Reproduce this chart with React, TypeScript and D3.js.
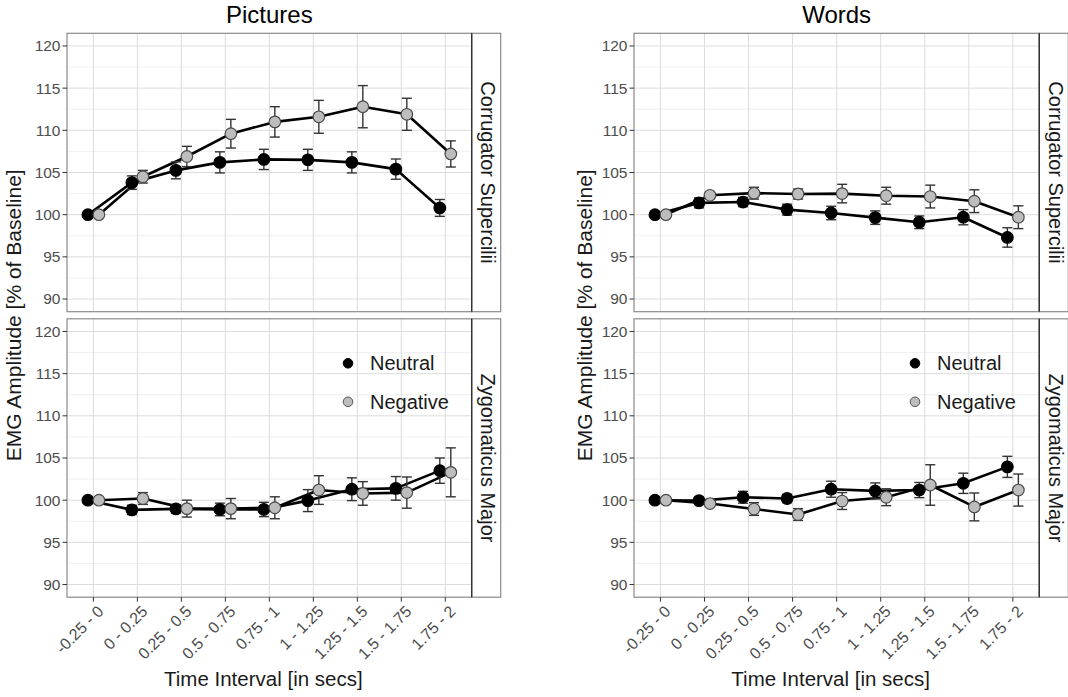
import React from "react";
import * as d3 from "d3";

const categories = ["-0.25 - 0", "0 - 0.25", "0.25 - 0.5", "0.5 - 0.75", "0.75 - 1", "1 - 1.25", "1.25 - 1.5", "1.5 - 1.75", "1.75 - 2"];
const yTicks = [90, 95, 100, 105, 110, 115, 120];
const yMinor = [92.5, 97.5, 102.5, 107.5, 112.5, 117.5];

const picCorrNeutral = [100, 103.8, 105.25, 106.2, 106.55, 106.5, 106.2, 105.4, 100.8];
const picCorrNeutralSE = [0, 0.8, 1.0, 1.25, 1.2, 1.25, 1.25, 1.2, 1.0];
const picCorrNegative = [100, 104.5, 106.9, 109.6, 111.0, 111.6, 112.8, 111.9, 107.2];
const picCorrNegativeSE = [0, 0.75, 1.2, 1.7, 1.8, 1.95, 2.5, 1.9, 1.55];
const picZygNeutral = [100, 98.85, 98.97, 98.9, 98.9, 99.95, 101.3, 101.4, 103.5];
const picZygNeutralSE = [0, 0.55, 0.5, 0.75, 0.85, 1.3, 1.35, 1.4, 1.5];
const picZygNegative = [100, 100.2, 99.0, 99.0, 99.1, 101.2, 100.8, 100.9, 103.3];
const picZygNegativeSE = [0, 0.7, 1.0, 1.2, 1.3, 1.7, 1.4, 1.85, 2.9];

const wordCorrNeutral = [100, 101.4, 101.5, 100.6, 100.2, 99.65, 99.1, 99.7, 97.3];
const wordCorrNeutralSE = [0, 0.6, 0.55, 0.65, 0.8, 0.8, 0.75, 0.9, 1.15];
const wordCorrNegative = [100, 102.3, 102.55, 102.45, 102.5, 102.25, 102.15, 101.6, 99.7];
const wordCorrNegativeSE = [0, 0.4, 0.7, 0.6, 1.1, 1.0, 1.35, 1.35, 1.35];
const wordZygNeutral = [100, 99.95, 100.35, 100.2, 101.3, 101.1, 101.2, 102.0, 103.95];
const wordZygNeutralSE = [0, 0.3, 0.7, 0.5, 0.95, 0.95, 0.9, 1.2, 1.25];
const wordZygNegative = [100, 99.6, 98.95, 98.3, 99.9, 100.35, 101.8, 99.2, 101.2];
const wordZygNegativeSE = [0, 0.3, 0.75, 0.7, 1.0, 1.0, 2.4, 1.65, 1.9];

const FONT = "'Liberation Sans', Arial, Helvetica, sans-serif";

type Series = { name: string; values: number[]; se: number[]; fill: string; stroke: string; dodge: number };

function Panel({ x0, x1, y0, y1, strip, series, showLegend, showXLabels }: {
  x0: number; x1: number; y0: number; y1: number; strip: string; series: Series[]; showLegend: boolean; showXLabels: boolean;
}) {
  const x = d3.scalePoint<string>().domain(categories).range([x0, x1]).padding(0.6);
  const step = x.step();
  const y = d3.scaleLinear().domain([88.5, 121.5]).range([y1, y0]);
  const stripW = 29;
  return (
    <g>
      <rect x={x0} y={y0} width={x1 - x0} height={y1 - y0} fill="#fff" />
      {yMinor.map((v) => (
        <line key={"mn" + v} x1={x0} x2={x1} y1={y(v)} y2={y(v)} stroke="#ececec" strokeWidth={0.8} />
      ))}
      {yTicks.map((v) => (
        <line key={"mj" + v} x1={x0} x2={x1} y1={y(v)} y2={y(v)} stroke="#dcdcdc" strokeWidth={1} />
      ))}
      {categories.map((c) => (
        <line key={"vx" + c} x1={x(c)!} x2={x(c)!} y1={y0} y2={y1} stroke="#dcdcdc" strokeWidth={1} />
      ))}
      {series.map((s) => {
        const line = d3.line<number>().x((_, i) => x(categories[i])! + s.dodge * step).y((v) => y(v));
        return <path key={"l" + s.name} d={line(s.values)!} fill="none" stroke="#000" strokeWidth={2.6} strokeLinejoin="round" />;
      })}
      {series.map((s) =>
        s.values.map((v, i) => {
          if (!s.se[i]) return null;
          const cx = x(categories[i])! + s.dodge * step;
          const cap = 5;
          return (
            <g key={"e" + s.name + i} stroke="#333" strokeWidth={1.4}>
              <line x1={cx} x2={cx} y1={y(v - s.se[i])} y2={y(v + s.se[i])} />
              <line x1={cx - cap} x2={cx + cap} y1={y(v - s.se[i])} y2={y(v - s.se[i])} />
              <line x1={cx - cap} x2={cx + cap} y1={y(v + s.se[i])} y2={y(v + s.se[i])} />
            </g>
          );
        })
      )}
      {series.map((s) =>
        s.values.map((v, i) => (
          <circle key={"p" + s.name + i} cx={x(categories[i])! + s.dodge * step} cy={y(v)} r={5.8} fill={s.fill} stroke={s.stroke} strokeWidth={1.2} />
        ))
      )}
      <rect x={x0} y={y0} width={x1 - x0} height={y1 - y0} fill="none" stroke="#8a8a8a" strokeWidth={1.2} />
      {/* strip */}
      <rect x={x1} y={y0} width={stripW} height={y1 - y0} fill="#fff" stroke="#8a8a8a" strokeWidth={1.2} />
      <line x1={x1} x2={x1} y1={y0} y2={y1} stroke="#333" strokeWidth={1.4} />
      <text x={0} y={0} transform={`translate(${x1 + 9.5},${(y0 + y1) / 2}) rotate(90)`} textAnchor="middle" fontFamily={FONT} fontSize={20} fill="#1a1a1a">
        {strip}
      </text>
      {/* y axis */}
      {yTicks.map((v) => (
        <g key={"yt" + v}>
          <line x1={x0 - 4.5} x2={x0} y1={y(v)} y2={y(v)} stroke="#333" strokeWidth={1} />
          <text x={x0 - 6.5} y={y(v)} dy="0.35em" textAnchor="end" fontFamily={FONT} fontSize={15.5} fill="#4d4d4d">{v}</text>
        </g>
      ))}
      {showXLabels && categories.map((c) => (
        <g key={"xt" + c}>
          <line x1={x(c)!} x2={x(c)!} y1={y1} y2={y1 + 4.5} stroke="#333" strokeWidth={1} />
          <text x={0} y={0} transform={`translate(${x(c)! + 3},${y1 + 7}) rotate(-45)`} dy="0.72em" textAnchor="end" fontFamily={FONT} fontSize={16} fill="#4d4d4d">{c}</text>
        </g>
      ))}
      {showLegend && (
        <g fontFamily={FONT}>
          <circle cx={x0 + 281} cy={y0 + 44.5} r={4.8} fill="#000" stroke="#000" />
          <text x={x0 + 303} y={y0 + 44.5} dy="0.35em" fontSize={20} fill="#1a1a1a">Neutral</text>
          <circle cx={x0 + 281} cy={y0 + 83} r={4.8} fill="#bdbdbd" stroke="#555" strokeWidth={1} />
          <text x={x0 + 303} y={y0 + 83} dy="0.35em" fontSize={20} fill="#1a1a1a">Negative</text>
        </g>
      )}
    </g>
  );
}

function mk(n: number[], nse: number[], g: number[], gse: number[]): Series[] {
  return [
    { name: "Neutral", values: n, se: nse, fill: "#000", stroke: "#000", dodge: -0.125 },
    { name: "Negative", values: g, se: gse, fill: "#bdbdbd", stroke: "#4a4a4a", dodge: 0.125 },
  ];
}

function Plot({ x0, x1, title, top, bottom, yTitleX }: { x0: number; x1: number; title: string; top: Series[]; bottom: Series[]; yTitleX: number }) {
  const T0 = 33.3, T1 = 311.7, B0 = 318.8, B1 = 597.2;
  return (
    <g>
      <text x={(x0 + x1) / 2} y={23} textAnchor="middle" fontFamily={FONT} fontSize={24} fill="#000">{title}</text>
      <Panel x0={x0} x1={x1} y0={T0} y1={T1} strip="Corrugator Supercilii" series={top} showLegend={false} showXLabels={false} />
      <Panel x0={x0} x1={x1} y0={B0} y1={B1} strip="Zygomaticus Major" series={bottom} showLegend={true} showXLabels={true} />
      <text x={0} y={0} transform={`translate(${yTitleX},${(T0 + B1) / 2}) rotate(-90)`} textAnchor="middle" fontFamily={FONT} fontSize={21} fill="#1a1a1a">
        EMG Amplitude [% of Baseline]
      </text>
      <text x={(x0 + x1) / 2 - 6} y={686} textAnchor="middle" fontFamily={FONT} fontSize={20.5} fill="#1a1a1a">Time Interval [in secs]</text>
    </g>
  );
}

export default function App() {
  return (
    <svg width={1068} height={697} style={{ position: "absolute", left: 0, top: 0, background: "#fff" }}>
      <rect x={0} y={0} width={1068} height={697} fill="#fff" />
      <Plot x0={67} x1={471.7} title="Pictures" yTitleX={20.5}
        top={mk(picCorrNeutral, picCorrNeutralSE, picCorrNegative, picCorrNegativeSE)}
        bottom={mk(picZygNeutral, picZygNeutralSE, picZygNegative, picZygNegativeSE)} />
      <Plot x0={634} x1={1039.3} title="Words" yTitleX={591.5}
        top={mk(wordCorrNeutral, wordCorrNeutralSE, wordCorrNegative, wordCorrNegativeSE)}
        bottom={mk(wordZygNeutral, wordZygNeutralSE, wordZygNegative, wordZygNegativeSE)} />
    </svg>
  );
}
